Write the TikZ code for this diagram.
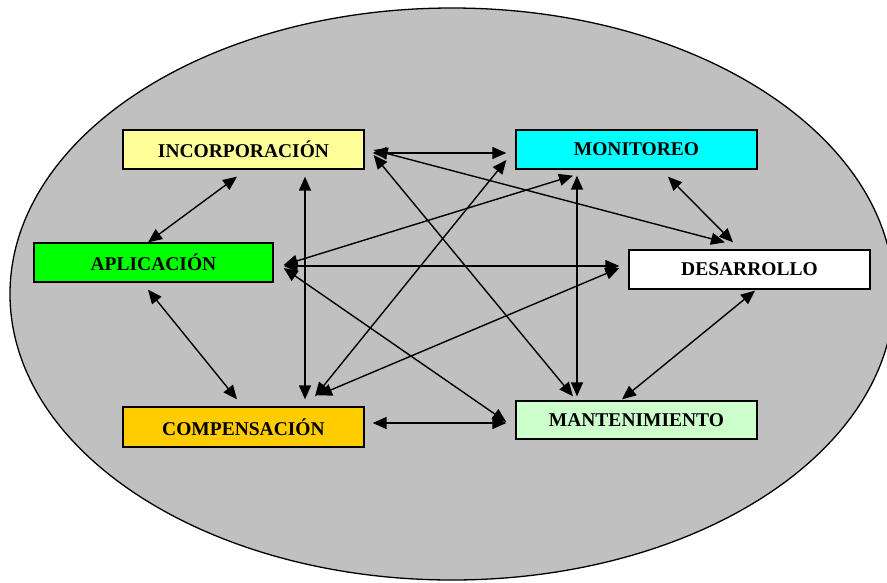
\documentclass[tikz,border=0pt]{standalone}
\usepackage{fontspec}
\setmainfont{Liberation Serif}
\usetikzlibrary{arrows.meta,calc}
\definecolor{ellgray}{HTML}{C0C0C0}
\definecolor{incfill}{HTML}{FFFF99}
\definecolor{monfill}{HTML}{00FFFF}
\definecolor{aplfill}{HTML}{00FF00}
\definecolor{comfill}{HTML}{FFCC00}
\definecolor{manfill}{HTML}{CCFFCC}
\tikzset{
  box/.style={draw=black, line width=1.3pt, rectangle, minimum width=241pt, minimum height=39pt,
    inner sep=0pt, font=\fontsize{19.5}{22}\selectfont\bfseries},
  link/.style={line width=1.4pt, {Triangle[length=14pt,width=12pt]}-{Triangle[length=14pt,width=12pt]}},
}
\begin{document}
\begin{tikzpicture}[x=1pt,y=-1pt]
\useasboundingbox (0,0) rectangle (887,582);
\clip (0,0) rectangle (887,582);
\draw[fill=ellgray, line width=1.3pt] (452,294) ellipse [x radius=442, y radius=286];

\node[box, fill=incfill] (inc) at (243.5,149.5) {\raisebox{-2pt}{INCORPORACIÓN}};
\node[box, fill=monfill] (mon) at (636.5,149.5) {\raisebox{-2pt}{MONITOREO}};
\node[box, fill=white] (des) at (749.5,269.5) {\raisebox{-2pt}{DESARROLLO}};
\node[box, fill=aplfill, minimum width=239pt] (apl) at (153.5,262.5) {\raisebox{-2pt}{APLICACIÓN}};
\node[box, fill=comfill, minimum height=40pt] (com) at (243.5,427) {\raisebox{-3pt}{COMPENSACIÓN}};
\node[box, fill=manfill, minimum height=38pt] (man) at (636.5,420) {\raisebox{-2pt}{MANTENIMIENTO}};

\draw[link] ($(inc.south)+(-6.5,7)$) -- ($(apl.north)+(-5.5,0)$);
\draw[link] ($(inc.south)+(61.5,7)$) -- ($(com.north)+(61.5,-7)$);
\draw[link] ($(inc.east)+(8,3.5)$) -- ($(mon.west)+(-9,3.5)$);
\draw[link] ($(inc.east)+(9,0.5)$) -- ($(des.north)+(-24.5,-7)$);
\draw[link] ($(inc.east)+(9,5.5)$) -- ($(man.north)+(-63.5,-4)$);
\draw[link] ($(mon.south)+(-63.5,6)$) -- ($(apl.east)+(10,2.5)$);
\draw[link] ($(mon.west)+(-9,10.5)$) -- ($(com.north)+(71.5,-10)$);
\draw[link] ($(mon.south)+(-59.5,6)$) -- ($(man.north)+(-59.5,-4)$);
\draw[link] ($(mon.south)+(31.5,7)$) -- ($(des.north)+(-16.5,-7)$);
\draw[link] ($(apl.east)+(10,3.5)$) -- ($(des.west)+(-9,-3.5)$);
\draw[link] ($(apl.east)+(10,5.5)$) -- ($(man.west)+(-9,2)$);
\draw[link] ($(apl.south)+(-5.5,7)$) -- ($(com.north)+(-6.5,-7)$);
\draw[link] ($(com.north)+(74.5,-11)$) -- ($(des.west)+(-9,-1.5)$);
\draw[link] ($(com.east)+(8,-4)$) -- ($(man.west)+(-9,3)$);
\draw[link] ($(des.south)+(5.5,1)$) -- ($(man.north)+(-14.5,-1)$);
\end{tikzpicture}
\end{document}
